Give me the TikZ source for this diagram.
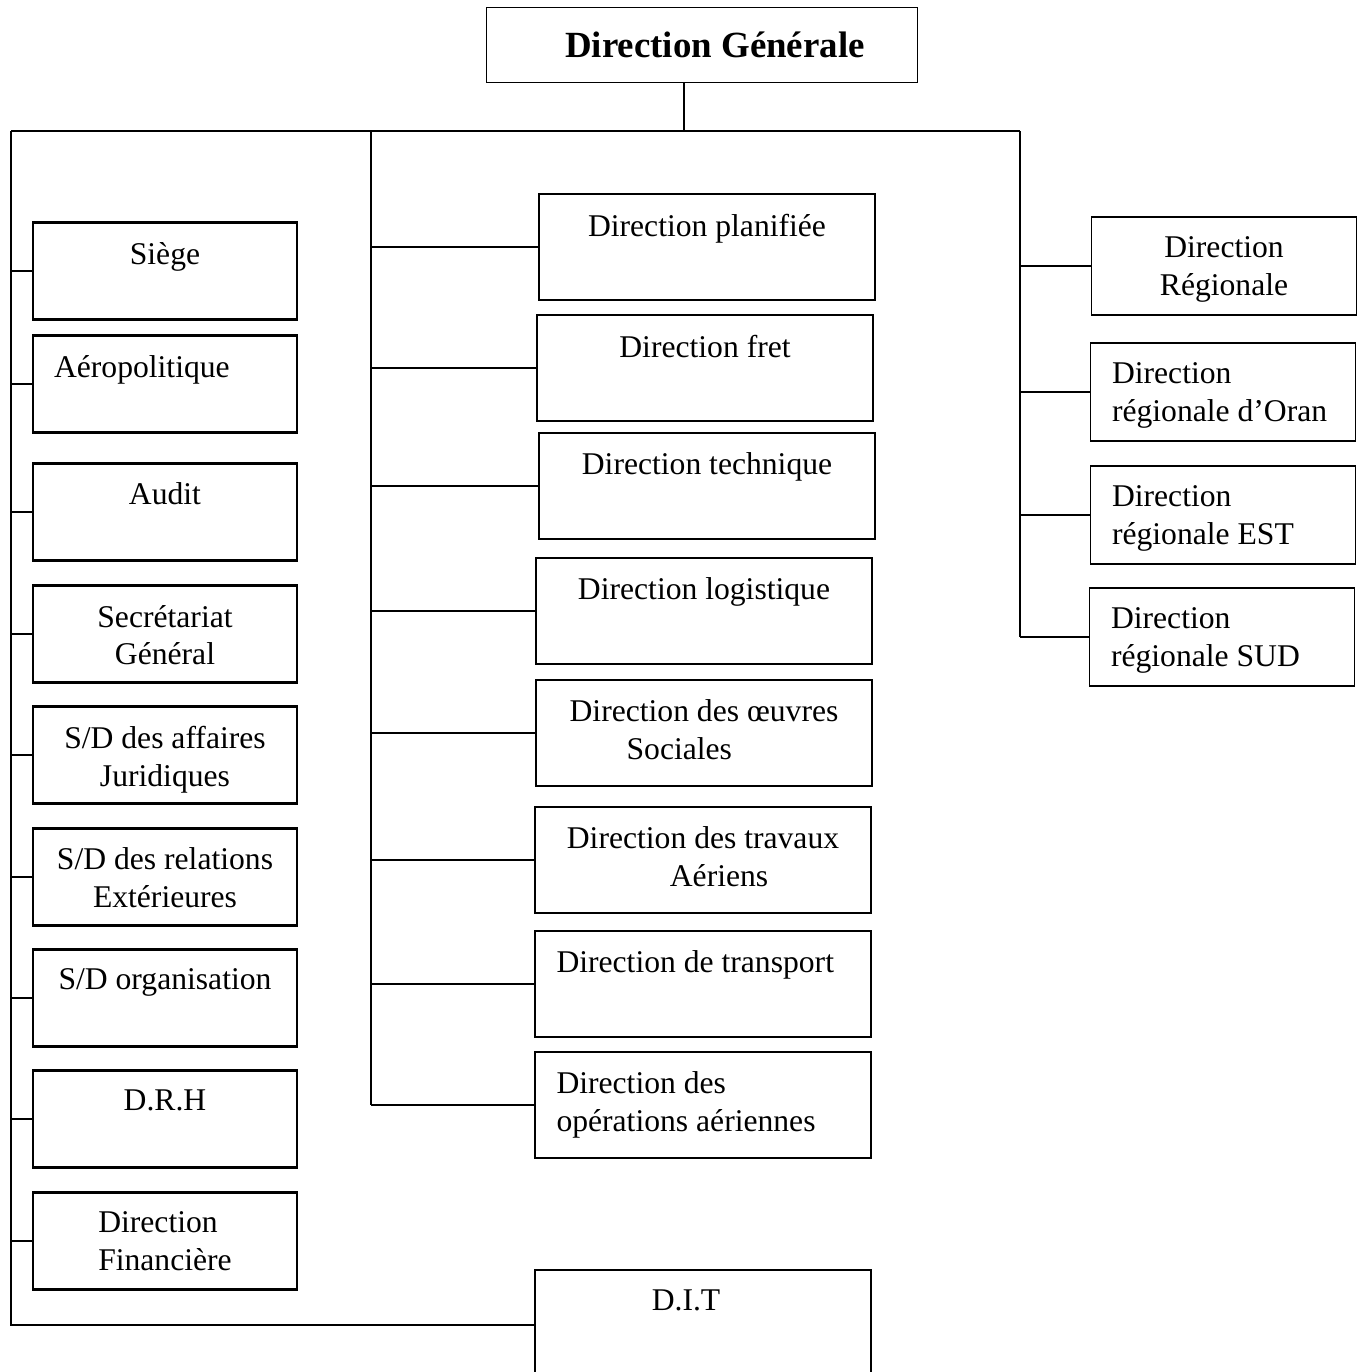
\documentclass[tikz,border=0pt]{standalone}
\usepackage{fontspec}
\setmainfont{Liberation Serif}

\begin{document}
\begin{tikzpicture}[x=0.02cm, y=-0.02cm,
  lbox/.style={draw=black, line width=1.5pt, minimum width=5.28cm, minimum height=1.94cm, inner sep=0pt},
  mbox/.style={draw=black, line width=1pt, minimum width=6.72cm, minimum height=2.12cm, inner sep=0pt},
  rbox/.style={draw=black, line width=1pt, minimum width=5.3cm, minimum height=1.96cm, inner sep=0pt},
  ctxt/.style={anchor=north, inner sep=0pt, yshift=-0.41cm, align=center, font=\fontsize{18}{21.6}\selectfont},
  ltxt/.style={anchor=north west, inner sep=0pt, yshift=-0.41cm, xshift=0.44cm, align=left, font=\fontsize{18}{21.6}\selectfont},
  conn/.style={line width=1.2pt}]
\useasboundingbox (0,0) rectangle (1362,1372);

\node[draw=black, line width=1pt, minimum width=8.62cm, minimum height=1.5cm, inner sep=0pt, label={[anchor=center, inner sep=0pt, xshift=0.26cm, font=\bfseries\fontsize{21}{25}\selectfont]center:Direction Générale}] (dg) at (702,45) {};

\node[lbox, label={[ctxt]north:Siège}] (siege) at (165,271) {};
\node[lbox, label={[ltxt]north west:Aéropolitique}] (aero) at (165,384) {};
\node[lbox, label={[ctxt]north:Audit}] (audit) at (165,512) {};
\node[lbox, label={[ctxt]north:{Secrétariat\\Général}}] (secr) at (165,634) {};
\node[lbox, label={[ctxt]north:{S/D des affaires\\Juridiques}}] (jur) at (165,755) {};
\node[lbox, label={[ctxt]north:{S/D des relations\\Extérieures}}] (ext) at (165,877) {};
\node[lbox, label={[ctxt]north:S/D organisation}] (org) at (165,998) {};
\node[lbox, label={[ctxt]north:D.R.H}] (drh) at (165,1119) {};
\node[lbox, label={[ctxt, align=left]north:{Direction\\Financière}}] (fin) at (165,1241) {};

\node[mbox, label={[ctxt]north:Direction planifiée}] (plan) at (707,247) {};
\node[mbox, label={[ctxt]north:Direction fret}] (fret) at (705,368) {};
\node[mbox, label={[ctxt]north:Direction technique}] (tech) at (707,486) {};
\node[mbox, label={[ctxt]north:Direction logistique}] (logi) at (704,611) {};
\node[mbox, label={[ctxt, align=left]north:{Direction des œuvres\\\hspace*{1.14cm}Sociales}}] (oeuv) at (704,733) {};
\node[mbox, label={[ctxt, align=left]north:{Direction des travaux\\\hspace*{2.06cm}Aériens}}] (trav) at (703,860) {};
\node[mbox, label={[ltxt]north west:Direction de transport}] (trans) at (703,984) {};
\node[mbox, label={[ltxt]north west:{Direction des\\opérations aériennes}}] (oper) at (703,1105) {};
\node[mbox, minimum height=2.2cm, label={[ctxt, xshift=-0.34cm]north:D.I.T}] (dit) at (703,1325) {};

\node[rbox, label={[ctxt]north:{Direction\\Régionale}}] (reg) at (1224,266) {};
\node[rbox, label={[ltxt]north west:{Direction\\régionale d’Oran}}] (oran) at (1223,392) {};
\node[rbox, label={[ltxt]north west:{Direction\\régionale EST}}] (est) at (1223,515) {};
\node[rbox, label={[ltxt]north west:{Direction\\régionale SUD}}] (sud) at (1222,637) {};

\coordinate (lt) at (11,131);
\coordinate (mt) at (371,131);
\coordinate (rt) at (1020,131);
\coordinate (lb) at (lt |- dit.west);
\coordinate (dgb) at ([xshift=-0.36cm]dg.south);

\draw[conn] (dgb) -- (dgb |- lt);
\draw[conn] (lt) -- (rt);
\draw[conn] (lt) -- (lb) -- (dit.west);
\draw[conn] (mt) -- (mt |- oper.west);
\draw[conn] (rt) -- (rt |- sud.west);

\foreach \n in {siege,aero,audit,secr,jur,ext,org,drh,fin}
  \draw[conn] (\n.west) -- (\n.west -| lt);
\foreach \n in {plan,fret,tech,logi,oeuv,trav,trans,oper}
  \draw[conn] (\n.west) -- (\n.west -| mt);
\foreach \n in {reg,oran,est,sud}
  \draw[conn] (\n.west) -- (\n.west -| rt);
\end{tikzpicture}
\end{document}
